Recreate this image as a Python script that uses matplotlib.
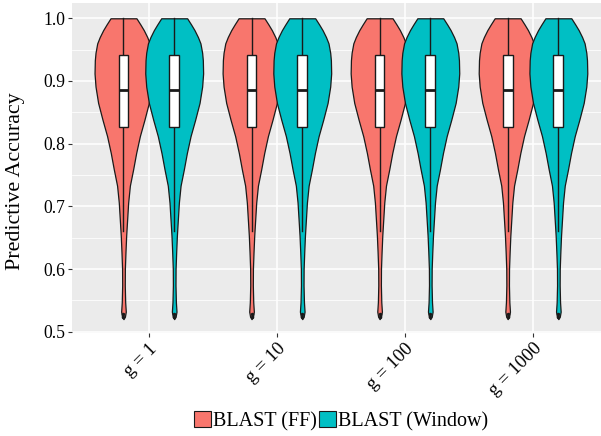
import matplotlib

matplotlib.use("Agg")
import matplotlib.pyplot as plt
import numpy as np
from matplotlib.patches import Patch, Rectangle

plt.rcParams["font.family"] = ["Liberation Serif", "DejaVu Serif"]

groups = ["g = 1", "g = 10", "g = 100", "g = 1000"]
series = ["BLAST (FF)", "BLAST (Window)"]
colors = ["#F8766D", "#00BFC4"]

# violin outline: accuracy level -> relative half-width
acc_grid = [1.000, 0.990, 0.981, 0.970, 0.960, 0.945, 0.933, 0.912, 0.891, 0.865,
            0.838, 0.812, 0.785, 0.759, 0.733, 0.706, 0.680, 0.653, 0.627, 0.600,
            0.574, 0.547, 0.532, 0.524, 0.520]
density = [0.448, 0.586, 0.703, 0.821, 0.907, 0.966, 0.990, 1.000, 0.966, 0.876,
           0.724, 0.566, 0.438, 0.334, 0.221, 0.162, 0.128, 0.093, 0.069, 0.048,
           0.045, 0.059, 0.080, 0.050, 0.000]

# box statistics per group (both series look identical in every group)
ff_q1 = [0.826, 0.826, 0.826, 0.826]
ff_median = [0.886, 0.886, 0.886, 0.886]
ff_q3 = [0.942, 0.942, 0.942, 0.942]
ff_lo = [0.661, 0.661, 0.661, 0.661]
ff_hi = [1.000, 1.000, 1.000, 1.000]
win_q1 = [0.826, 0.826, 0.826, 0.826]
win_median = [0.886, 0.886, 0.886, 0.886]
win_q3 = [0.942, 0.942, 0.942, 0.942]
win_lo = [0.661, 0.661, 0.661, 0.661]
win_hi = [1.000, 1.000, 1.000, 1.000]
outliers = [0.524, 0.528]

yticks = [0.5, 0.6, 0.7, 0.8, 0.9, 1.0]

stats = [
    (ff_q1, ff_median, ff_q3, ff_lo, ff_hi),
    (win_q1, win_median, win_q3, win_lo, win_hi),
]
offsets = [-0.198, 0.198]
half_width = 0.226
box_half = 0.038
line_col = "#1a1a1a"

fig = plt.figure(figsize=(6.01, 4.36), dpi=100)
ax = fig.add_axes([72 / 601, 1 - 332.5 / 436, 1 - 72 / 601, (332.5 - 3) / 436])
ax.set_facecolor("#EBEBEB")
for s in ax.spines.values():
    s.set_visible(False)

x = np.arange(1, len(groups) + 1)
ax.set_xlim(0.4, 4.531)
ax.set_ylim(0.4987, 1.0244)

ax.set_yticks(yticks)
ax.set_yticklabels([f"{v:.1f}" for v in yticks])
ax.set_yticks([0.55, 0.65, 0.75, 0.85, 0.95], minor=True)
ax.set_xticks(x)
ax.set_xticklabels(groups, rotation=45, ha="right", va="top", rotation_mode="anchor")
ax.grid(which="major", color="white", lw=1.1)
ax.grid(which="minor", axis="y", color="white", lw=0.55)
ax.set_axisbelow(True)
ax.tick_params(which="major", length=3, width=0.8, color="#333333",
               labelsize=12.7, labelcolor="black", pad=2)
ax.tick_params(which="minor", length=0)
ax.tick_params(axis="x", pad=2.5, labelsize=13.5)

acc = np.array(acc_grid)
dens = np.array(density)

# violins first, then boxes on top
for gi, xc in enumerate(x):
    for si in range(2):
        c = xc + offsets[si]
        ax.fill_betweenx(acc, c - half_width * dens, c + half_width * dens,
                         facecolor=colors[si], edgecolor=line_col, lw=0.9, zorder=2)

for gi, xc in enumerate(x):
    for si in range(2):
        c = xc + offsets[si]
        q1, med, q3, lo, hi = (a[gi] for a in stats[si])
        ax.plot([c, c], [q3, hi], color=line_col, lw=1.0, zorder=3)
        ax.plot([c, c], [lo, q1], color=line_col, lw=1.0, zorder=3)
        ax.add_patch(Rectangle((c - box_half, q1), 2 * box_half, q3 - q1,
                               facecolor="white", edgecolor=line_col, lw=1.0, zorder=4))
        ax.plot([c - box_half, c + box_half], [med, med], color=line_col, lw=2, zorder=5,
                solid_capstyle="butt")
        ax.plot([c] * len(outliers), outliers, "o", color=line_col, ms=1.5, zorder=5)

fig.text(16 / 601, 1 - 181 / 436, "Predictive Accuracy", rotation=90,
         ha="center", va="center", fontsize=15.8)

handles = [Patch(facecolor=col, edgecolor=line_col, lw=0.8) for col in colors]
fig.legend(handles, series, loc="center", bbox_to_anchor=(341 / 601, 1 - 421 / 436),
           ncol=2, frameon=False, fontsize=14.5, handlelength=0.85, handleheight=0.85,
           handletextpad=0.1, columnspacing=0.1, borderpad=0, borderaxespad=0)

fig.savefig("out.png", dpi=100)
